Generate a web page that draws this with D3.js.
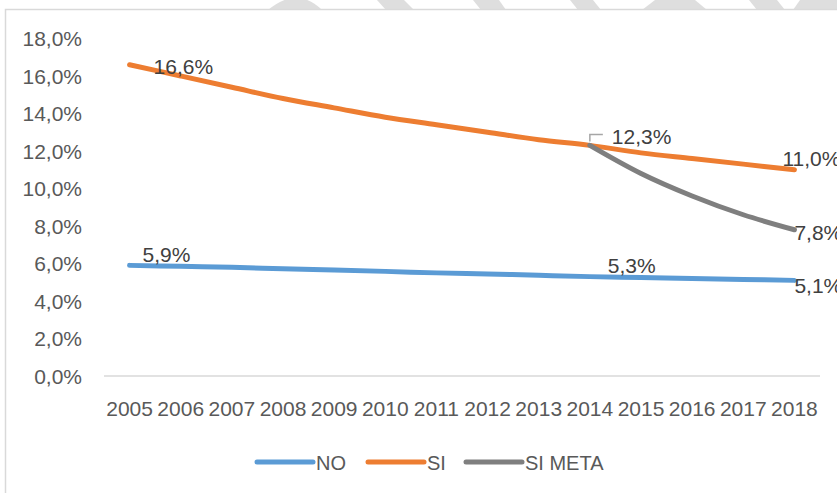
<!DOCTYPE html>
<html>
<head>
<meta charset="utf-8">
<script src="https://cdn.jsdelivr.net/npm/d3@7"></script>
<style>
  html, body { margin: 0; padding: 0; background: #fff; }
  svg { display: block; font-family: "Liberation Sans", Arial, sans-serif; }
</style>
</head>
<body>
<div id="chart"></div>
<script>
// data
const years = ["2005","2006","2007","2008","2009","2010","2011","2012","2013","2014","2015","2016","2017","2018"];
const noValues = [5.9, 5.85, 5.8, 5.72, 5.65, 5.58, 5.5, 5.44, 5.37, 5.3, 5.25, 5.2, 5.15, 5.1];
const siValues = [16.6, 16.0, 15.4, 14.8, 14.3, 13.8, 13.4, 13.0, 12.6, 12.3, 11.9, 11.6, 11.3, 11.0];
const metaYears = ["2014","2015","2016","2017","2018"];
const metaValues = [12.3, 10.8, 9.6, 8.6, 7.8];
const yTicks = [0, 2, 4, 6, 8, 10, 12, 14, 16, 18];
const seriesNames = ["NO", "SI", "SI META"];
const colors = ["#5B9BD5", "#ED7D31", "#7F7F7F"];

// which points carry a label, and where the label sits (px offsets from the point)
const labelSpots = [
  { s: 0, year: "2005", dx: 13, dy: -3 },
  { s: 0, year: "2014", dx: 18, dy: -4 },
  { s: 0, year: "2018", dx: 0, dy: 13 },
  { s: 1, year: "2005", dx: 24, dy: 9 },
  { s: 1, year: "2014", dx: 22, dy: -1, leader: true },
  { s: 1, year: "2018", dx: -12, dy: -4 },
  { s: 2, year: "2018", dx: 0, dy: 10 }
];

const W = 837, H = 493;
const it = d3.formatLocale({ decimal: ",", thousands: ".", grouping: [3], currency: ["", "€"] });
const fmt = it.format(".1f");

const series = [
  years.map((y, i) => ({ year: y, v: noValues[i] })),
  years.map((y, i) => ({ year: y, v: siValues[i] })),
  metaYears.map((y, i) => ({ year: y, v: metaValues[i] }))
];

const svg = d3.select("#chart").append("svg")
  .attr("width", W).attr("height", H);

// watermark bits showing above the chart frame
const wm = [
  [[377,0],[404,0],[414,10],[386,10]],
  [[473,0],[499,0],[506,10],[481,10]],
  [[570,0],[593,0],[601,10],[578,10]],
  [[655,0],[695,0],[707,10],[642,10]],
  [[749,0],[777,0],[785,10],[757,10]],
  [[800,0],[837,0],[837,10],[793,10]]
];
svg.selectAll("polygon.wm").data(wm).join("polygon")
  .attr("points", d => d.map(p => p.join(",")).join(" "))
  .attr("fill", "#dedede");
svg.append("path")
  .attr("d", "M268,10 Q285,-4 300,-2 Q312,0 322,10 Z")
  .attr("fill", "#dedede");

// chart frame
svg.append("rect")
  .attr("x", 5.5).attr("y", 9.5)
  .attr("width", W + 20).attr("height", H + 20)
  .attr("fill", "#fff").attr("stroke", "#d9d9d9").attr("stroke-width", 1.5);

const x = d3.scaleBand().domain(years).range([104, 820]);
const cx = d => x(d) + x.bandwidth() / 2;
const y = d3.scaleLinear().domain([0, 18]).range([376, 38.5]);

// y axis labels
svg.append("g").selectAll("text").data(yTicks).join("text")
  .attr("x", 82).attr("y", d => y(d) + 7.5)
  .attr("text-anchor", "end")
  .attr("font-size", 21).attr("fill", "#595959")
  .text(d => fmt(d) + "%");

// baseline
svg.append("line")
  .attr("x1", 104).attr("x2", 820)
  .attr("y1", y(0)).attr("y2", y(0))
  .attr("stroke", "#d9d9d9").attr("stroke-width", 1.5);

// year labels
svg.append("g").selectAll("text").data(years).join("text")
  .attr("x", d => cx(d)).attr("y", 416)
  .attr("text-anchor", "middle")
  .attr("font-size", 21).attr("fill", "#595959")
  .text(d => d);

const line = d3.line()
  .x(d => cx(d.year)).y(d => y(d.v))
  .curve(d3.curveCardinal.tension(0));

svg.append("g").selectAll("path").data(series).join("path")
  .attr("d", line)
  .attr("fill", "none")
  .attr("stroke", (d, i) => colors[i])
  .attr("stroke-width", 5)
  .attr("stroke-linecap", "round")
  .attr("stroke-linejoin", "round");

// data labels
labelSpots.forEach(l => {
  const p = series[l.s].find(d => d.year === l.year);
  const px = cx(p.year), py = y(p.v);
  if (l.leader) {
    svg.append("polyline")
      .attr("points", `${px},${py - 4} ${px},${py - 11} ${px + 13},${py - 11}`)
      .attr("fill", "none").attr("stroke", "#a6a6a6").attr("stroke-width", 1.5);
  }
  svg.append("text")
    .attr("x", px + l.dx).attr("y", py + l.dy)
    .attr("font-size", 21).attr("fill", "#404040")
    .text(fmt(p.v) + "%");
});

// legend
const legendX = [257, 368, 466];
const lg = svg.append("g").selectAll("g").data(seriesNames).join("g")
  .attr("transform", (d, i) => `translate(${legendX[i]},462)`);
lg.append("line")
  .attr("x1", 0).attr("x2", 56)
  .attr("stroke", (d, i) => colors[i])
  .attr("stroke-width", 5).attr("stroke-linecap", "round");
lg.append("text")
  .attr("x", 59).attr("y", 7.5)
  .attr("font-size", 20).attr("fill", "#595959")
  .text(d => d);
</script>
</body>
</html>
